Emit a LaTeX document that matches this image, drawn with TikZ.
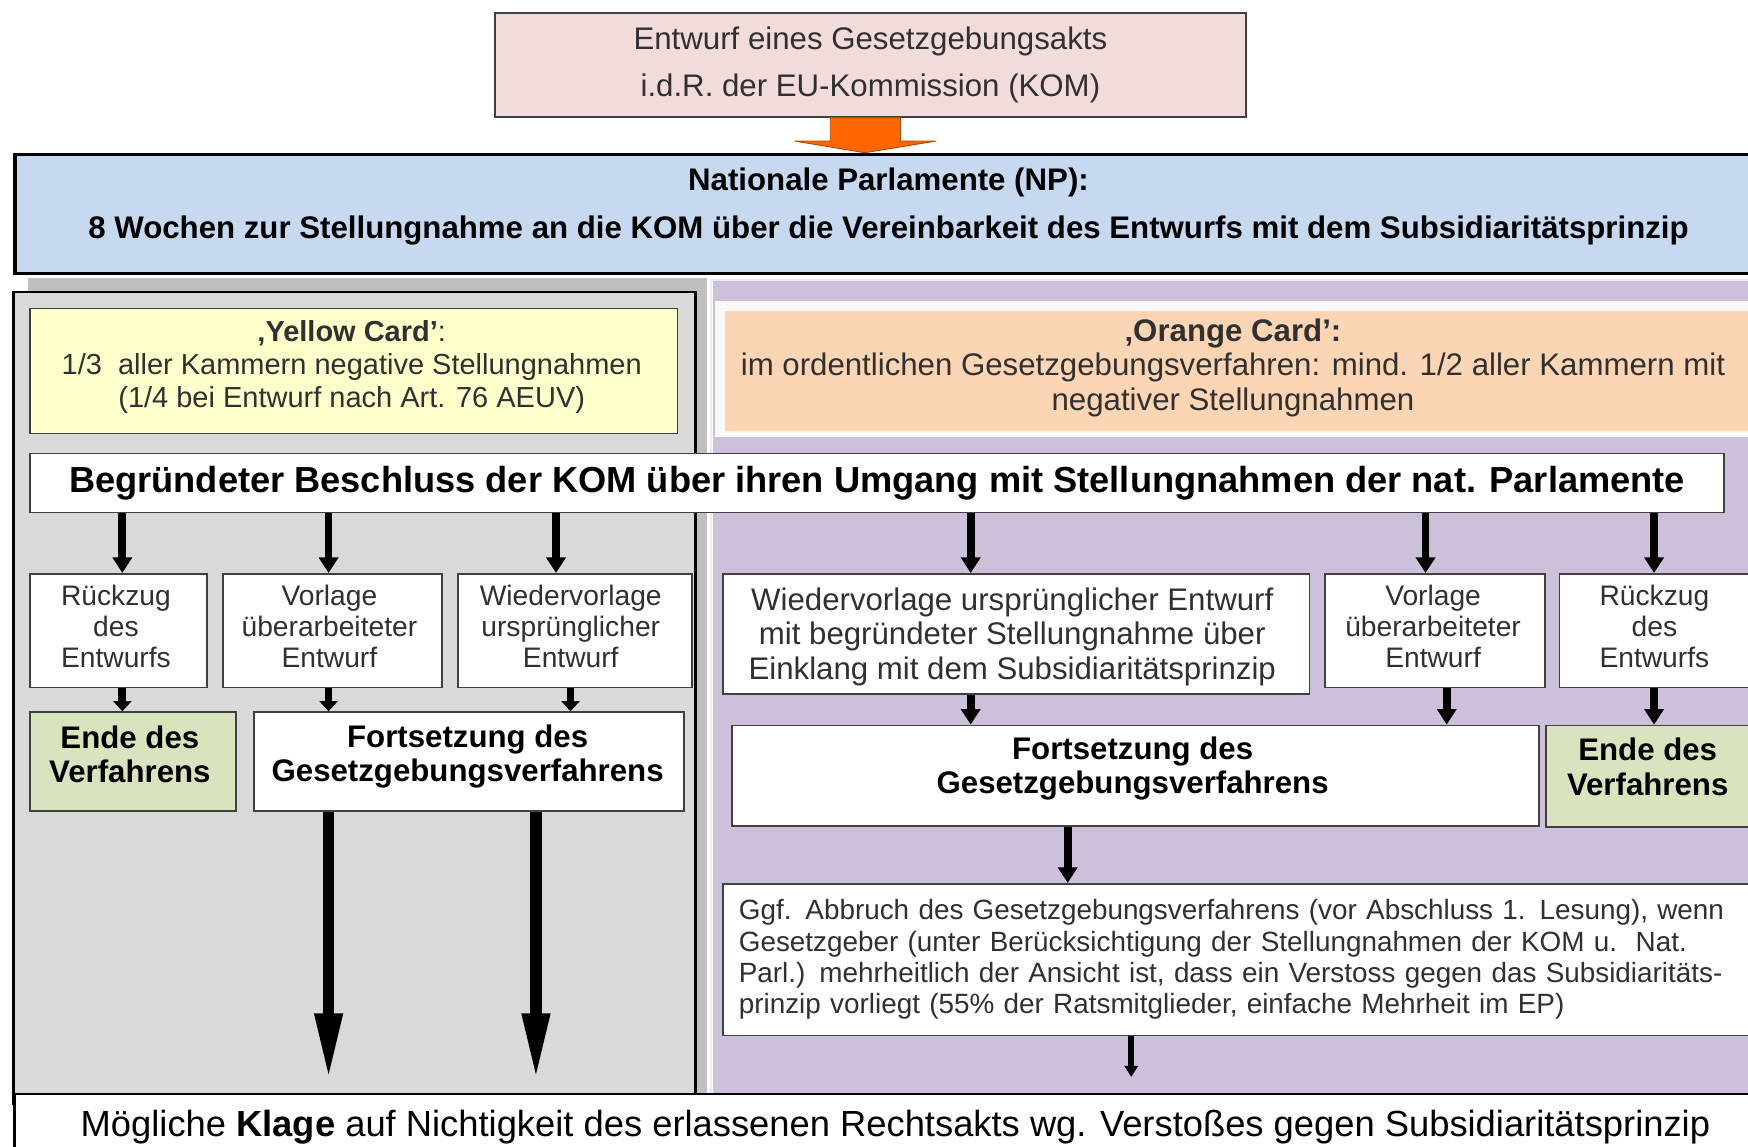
\documentclass[tikz,border=0pt]{standalone}
\usepackage{fontspec}
\setmainfont{Liberation Sans}
\usetikzlibrary{arrows.meta,calc}
\definecolor{pinkc}{HTML}{F2DCDB}
\definecolor{npblue}{HTML}{C6D9F1}
\definecolor{panelgray}{HTML}{D9D9D9}
\definecolor{shadowgray}{HTML}{BFBFBF}
\definecolor{purp}{HTML}{CCC0DA}
\definecolor{yell}{HTML}{FFFFCC}
\definecolor{orangecard}{HTML}{FCD5B5}
\definecolor{greenc}{HTML}{D7E4BD}
\definecolor{arrorange}{HTML}{FF6600}
\definecolor{bordc}{HTML}{404040}
\definecolor{txtc}{HTML}{303030}
\tikzset{
  box/.style={draw=bordc, line width=1.5pt, fill=white, inner sep=0pt, anchor=north west, align=center, text=txtc},
  lbl/.style={inner sep=0pt, align=center, text=txtc},
  smallfont/.style={font=\fontsize{25.3}{27.5}\selectfont},
  boldfont/.style={font=\bfseries\fontsize{28}{30.5}\selectfont, text=black},
  arrA/.style={line width=7pt, -{Triangle[width=17pt,length=14pt]}},
  arrB/.style={line width=7pt, -{Triangle[width=16pt,length=9pt]}},
  arrC/.style={line width=5pt, -{Triangle[width=12pt,length=10pt]}},
  arrL/.style={line width=10pt, -{Triangle[width=23pt,length=60pt]}},
}
\begin{document}
\begin{tikzpicture}[x=1pt,y=-1pt]
\useasboundingbox (0,0) rectangle (1568,1028);
% panels
\fill[shadowgray] (25,249) rectangle (634,980);
\draw[line width=2.5pt, fill=panelgray] (12,262) rectangle (624,990);
\fill[purp] (640,252) rectangle (1575,980);
\draw[white!85!gray, line width=1.5pt] (638,980) -- (638,251) -- (1575,251);
\fill[white!95!gray] (641,270) rectangle (1575,392);
% top
\node[box, fill=pinkc, minimum width=674, minimum height=93, font=\fontsize{28}{43}\selectfont] (draft) at (443,11)
  {Entwurf eines Gesetzgebungsakts\\i.d.R. der EU-Kommission (KOM)};
\node[box, fill=npblue, draw=black, line width=3pt, minimum width=1570, minimum height=107] (np) at (12,137) {};
\node[lbl, text=black, font=\bfseries\fontsize{28}{43}\selectfont] (npt) at (797,185.5)
  {Nationale Parlamente (NP):\\8 Wochen zur Stellungnahme an die KOM über die Vereinbarkeit des Entwurfs mit dem Subsidiaritätsprinzip};
% orange block arrow
\draw[fill=arrorange, draw=arrorange!70!black, line width=0.8pt]
  ($(draft.south)+(-36,0)$) -- ++(0,21) -- ++(-32,0) -- ($(np.north -| draft.south)+(-5,0)$)
  -- ($(draft.south)+(59,21)$) -- ++(-32,0) -- ($(draft.south)+(27,0)$) -- cycle;
% cards
\node[box, fill=yell, minimum width=581, minimum height=112] (yc) at (26,276) {};
\node[lbl, font=\fontsize{26}{29.5}\selectfont] (yct) at (315.5,329.5)
  {{\bfseries ‚Yellow Card’}:\\1/3\ \ aller Kammern negative Stellungnahmen\\(1/4 bei Entwurf nach Art. 76 AEUV)};
\node[box, draw=none, fill=orangecard, minimum width=925, minimum height=108] (oc) at (650,278) {};
\node[lbl, font=\fontsize{28}{31}\selectfont] (oct) at (1106,330)
  {{\bfseries ‚Orange Card’:}\\im ordentlichen Gesetzgebungsverfahren: mind. 1/2 aller Kammern mit\\negativer Stellungnahmen};
% Beschluss
\node[box, minimum width=1520, minimum height=53, text=black, font=\bfseries\fontsize{32.5}{36}\selectfont] (besch) at (26,406)
  {Begründeter Beschluss der KOM über ihren Umgang mit Stellungnahmen der nat. Parlamente};
% left row 1
\node[box, minimum width=159, minimum height=102] (r1) at (26,514) {};
\node[lbl, smallfont] (r1t) at (104,562) {Rückzug\\des\\Entwurfs};
\node[box, minimum width=197, minimum height=102] (r2) at (199,514) {};
\node[lbl, smallfont] (r2t) at (295.5,562) {Vorlage\\überarbeiteter\\Entwurf};
\node[box, minimum width=210, minimum height=102] (r3) at (410,514) {};
\node[lbl, smallfont] (r3t) at (512,562) {Wiedervorlage\\ursprünglicher\\Entwurf};
% left row 2
\node[box, fill=greenc, minimum width=185, minimum height=89] (e1) at (26,638) {};
\node[lbl, boldfont] (e1t) at (116.5,676.5) {Ende des\\Verfahrens};
\node[box, minimum width=386, minimum height=89] (f1) at (227,638) {};
\node[lbl, boldfont] (f1t) at (419.5,678.5) {Fortsetzung des\\Gesetzgebungsverfahrens};
% right row 1
\node[box, minimum width=526, minimum height=108] (r4) at (648,514) {};
\node[lbl, font=\fontsize{28}{31}\selectfont] (r4t) at (908,571)
  {Wiedervorlage ursprünglicher Entwurf\\mit begründeter Stellungnahme über\\Einklang mit dem Subsidiaritätsprinzip};
\node[box, minimum width=197, minimum height=102] (r5) at (1188,514) {};
\node[lbl, smallfont] (r5t) at (1285.5,562) {Vorlage\\überarbeiteter\\Entwurf};
\node[box, minimum width=178, minimum height=102] (r6) at (1398,514) {};
\node[lbl, smallfont] (r6t) at (1484,562) {Rückzug\\des\\Entwurfs};
% right row 2
\node[box, minimum width=724, minimum height=90] (f2) at (656,650) {};
\node[lbl, boldfont, font=\bfseries\fontsize{28}{31}\selectfont] (f2t) at (1016,689.5) {Fortsetzung des\\Gesetzgebungsverfahrens};
\node[box, fill=greenc, minimum width=190, minimum height=91] (e2) at (1386,650) {};
\node[lbl, boldfont, font=\bfseries\fontsize{28}{31}\selectfont] (e2t) at (1478,688) {Ende des\\Verfahrens};
% Abbruch
\node[box, align=left, text width=905, inner xsep=14pt, minimum height=136, font=\fontsize{25}{28}\selectfont] (ab) at (648,792)
  {Ggf. Abbruch des Gesetzgebungsverfahrens (vor Abschluss 1. Lesung), wenn\\
   Gesetzgeber (unter Berücksichtigung der Stellungnahmen der KOM u.\ \ Nat.\\
   Parl.) mehrheitlich der Ansicht ist, dass ein Verstoss gegen das Subsidiaritäts-\\
   prinzip vorliegt (55\% der Ratsmitglieder, einfache Mehrheit im EP)};
% bottom
\node[box, draw=black, line width=2.5pt, minimum width=1580, minimum height=60, text=black, font=\fontsize{32.6}{36}\selectfont] (kl) at (12,980)
  {Mögliche \textbf{Klage} auf Nichtigkeit des erlassenen Rechtsakts wg. Verstoßes gegen Subsidiaritätsprinzip};
% top row arrows
\coordinate (t1) at ($(r1.north)+(3.5,0)$);
\coordinate (t2) at ($(r2.north)+(-3.5,0)$);
\coordinate (t3) at ($(r3.north)+(-17,0)$);
\coordinate (t4) at ($(r4.north)+(-41,0)$);
\coordinate (t5) at ($(r5.north)+(-8.5,0)$);
\coordinate (t6) at ($(r6.north)+(-4,0)$);
\foreach \c in {t1,t2,t3,t4,t5,t6} { \draw[arrA] (besch.south -| \c) -- (\c); }
% row1 -> row2
\coordinate (s1) at ($(r1.south)+(3.5,0)$);
\coordinate (s2) at ($(r2.south)+(-3.5,0)$);
\coordinate (s3) at ($(r3.south)+(-4,0)$);
\draw[arrB] (s1) -- (e1.north -| s1);
\draw[arrB] (s2) -- (f1.north -| s2);
\draw[arrB] (s3) -- (f1.north -| s3);
\coordinate (s4) at ($(r4.south)+(-41,0)$);
\coordinate (s5) at ($(r5.south)+(10.5,0)$);
\coordinate (s6) at ($(r6.south)+(-4,0)$);
\draw[arrA] (s4) -- (f2.north -| s4);
\draw[arrA] (s5) -- (f2.north -| s5);
\draw[arrA] (s6) -- (e2.north -| s6);
% long arrows
\coordinate (L1) at ($(f1.south)+(-126,0)$);
\coordinate (L2) at ($(f1.south)+(60,0)$);
\coordinate (L1e) at ($(L1 |- kl.north)+(0,-11)$);
\coordinate (L2e) at ($(L2 |- kl.north)+(0,-11)$);
\draw[arrL] (L1) -- (L1e);
\draw[arrL] (L2) -- (L2e);
% right lower arrows
\coordinate (m1) at ($(f2.south)+(-61,0)$);
\draw[arrA] (m1) -- (ab.north -| m1);
\coordinate (m2) at ($(ab.south)+(-100.5,0)$);
\coordinate (m2e) at ($(m2 |- kl.north)+(0,-14)$);
\draw[arrC] (m2) -- (m2e);
\end{tikzpicture}
\end{document}
